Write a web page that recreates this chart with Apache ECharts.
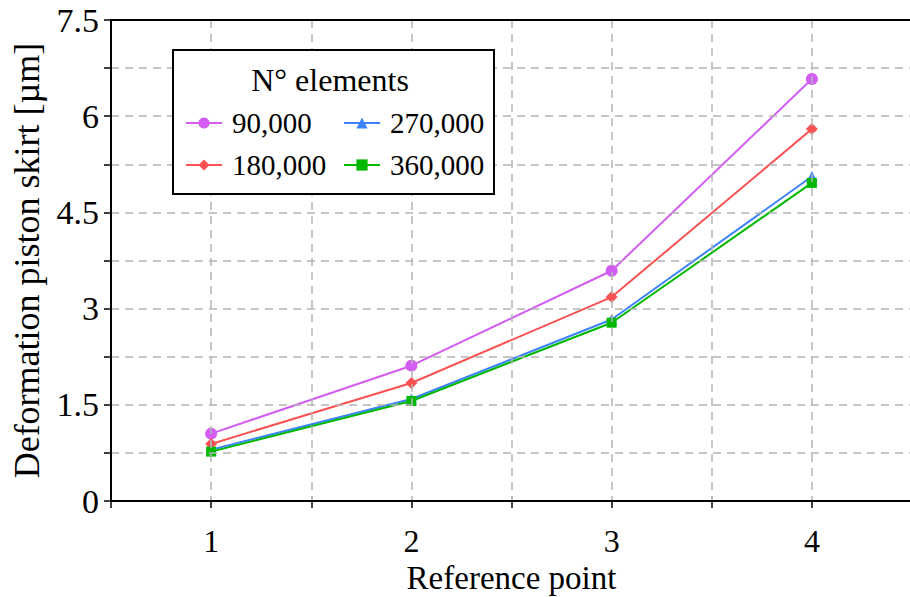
<!DOCTYPE html>
<html>
<head>
<meta charset="utf-8">
<title>Deformation piston skirt</title>
<script src="https://cdn.jsdelivr.net/npm/echarts@6/dist/echarts.min.js"></script>
<style>
  html, body { margin: 0; padding: 0; background: #fff; }
  #chart { width: 910px; height: 597px; }
</style>
</head>
<body>
<div id="chart"></div>
<script>
// Reference points along the piston skirt
const referencePoints = [1, 2, 3, 4];

// Skirt deformation [µm] for each mesh size
const mesh90k  = [1.05, 2.11, 3.59, 6.58];
const mesh180k = [0.89, 1.84, 3.18, 5.80];
const mesh270k = [0.80, 1.59, 2.83, 5.06];
const mesh360k = [0.77, 1.56, 2.78, 4.96];

const seriesNames = ['90,000', '180,000', '270,000', '360,000'];
const yTickLabels = ['0', '1.5', '3', '4.5', '6', '7.5'];

const FONT = 'Liberation Serif';

function pairs(values) {
  return referencePoints.map((x, i) => [x, values[i]]);
}

function lineSeries(name, values, color, symbol, size) {
  return {
    name: name,
    type: 'line',
    data: pairs(values),
    symbol: symbol,
    symbolSize: size,
    color: color,
    lineStyle: { width: 2, color: color },
    itemStyle: { color: color },
    z: 2
  };
}

const chart = echarts.init(document.getElementById('chart'), null, { renderer: 'svg' });

const gridDash = { color: '#b4b4b4', width: 1.5, type: [8, 6] };
const blackLine = { color: '#000', width: 2 };

const legendText = { fontFamily: FONT, fontSize: 29, color: '#000', lineHeight: 32, padding: [0, 0, 0, 5] };

chart.setOption({
  animation: false,
  backgroundColor: '#fff',
  textStyle: { fontFamily: FONT },
  grid: {
    left: 111, top: 20, right: -2, bottom: 96,
    containLabel: false,
    outerBoundsMode: 'none'
  },
  xAxis: [
    {
      type: 'value',
      min: 0.5, max: 4.5, interval: 0.5,
      name: 'Reference point',
      nameLocation: 'middle',
      nameGap: 60,
      nameMoveOverlap: false,
      nameTextStyle: { fontFamily: FONT, fontSize: 33, lineHeight: 34, color: '#000' },
      axisLine: { show: true, onZero: false, lineStyle: blackLine },
      axisTick: { show: true, length: 7, lineStyle: { color: '#000', width: 1.5 } },
      axisLabel: {
        margin: 25, fontFamily: FONT, fontSize: 32, lineHeight: 30, color: '#000',
        formatter: v => (Math.abs(v - Math.round(v)) < 1e-9 ? String(Math.round(v)) : '')
      },
      splitLine: { show: true, showMinLine: false, lineStyle: gridDash },
      z: 3
    },
    {
      // plain frame line along the top edge of the plot
      type: 'value',
      position: 'top',
      min: 0.5, max: 4.5, interval: 0.5,
      axisLine: { show: true, onZero: false, lineStyle: blackLine },
      axisTick: { show: false },
      axisLabel: { show: false },
      splitLine: { show: false },
      z: 3
    }
  ],
  yAxis: {
    type: 'value',
    min: 0, max: 7.5, interval: 0.75,
    name: 'Deformation piston skirt [µm]',
    nameLocation: 'middle',
    nameGap: 66,
    nameRotate: 90,
    nameTextStyle: { fontFamily: FONT, fontSize: 36, color: '#000' },
    axisLine: { show: true, onZero: false, lineStyle: blackLine },
    axisTick: { show: true, length: 7, lineStyle: { color: '#000', width: 1.5 } },
    axisLabel: {
      margin: 12, fontFamily: FONT, fontSize: 34, color: '#000',
      formatter: v => {
        const k = Math.round(v / 1.5);
        return Math.abs(v - k * 1.5) < 1e-9 ? yTickLabels[k] : '';
      }
    },
    splitLine: { show: true, showMinLine: false, showMaxLine: false, lineStyle: gridDash },
    z: 3
  },
  graphic: [
    {
      type: 'rect',
      shape: { x: 173, y: 50, width: 321, height: 144 },
      style: { fill: '#fff', stroke: '#000', lineWidth: 2 },
      z: 5
    },
    {
      type: 'text',
      x: 330, y: 80,
      style: {
        text: 'N° elements', fill: '#000',
        font: '32px "' + FONT + '"',
        textAlign: 'center', textVerticalAlign: 'middle'
      },
      z: 6
    }
  ],
  legend: [
    {
      data: [seriesNames[0], seriesNames[1]],
      orient: 'vertical', left: 180, top: 102,
      itemWidth: 36, itemHeight: 14, itemGap: 10,
      textStyle: legendText,
      z: 10
    },
    {
      data: [seriesNames[2], seriesNames[3]],
      orient: 'vertical', left: 338, top: 102,
      itemWidth: 36, itemHeight: 14, itemGap: 10,
      textStyle: legendText,
      z: 10
    }
  ],
  series: [
    lineSeries(seriesNames[0], mesh90k,  '#d35cf2', 'circle',   12),
    lineSeries(seriesNames[1], mesh180k, '#fa5252', 'diamond',  12),
    lineSeries(seriesNames[2], mesh270k, '#3d82fa', 'triangle', 11),
    lineSeries(seriesNames[3], mesh360k, '#00b800', 'rect',     10)
  ]
});
</script>
</body>
</html>
